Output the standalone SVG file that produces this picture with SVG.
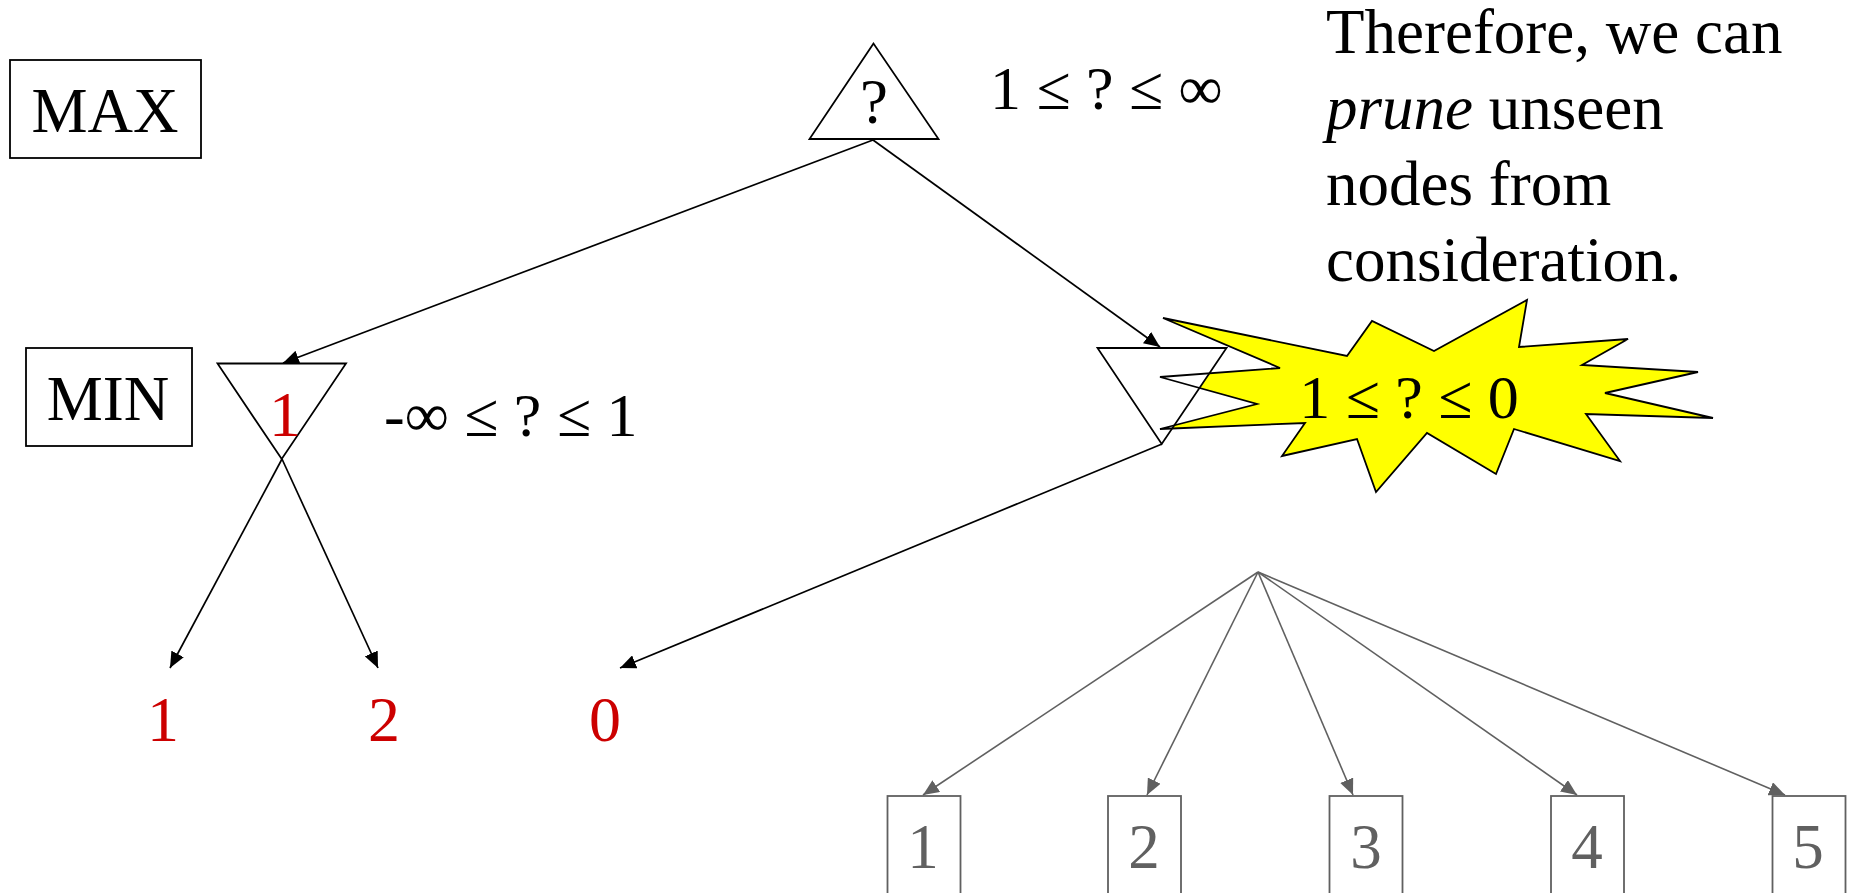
<svg xmlns="http://www.w3.org/2000/svg" width="1856" height="893" viewBox="0 0 1856 893">
<defs>
<style>
text{font-family:"Liberation Serif","Times New Roman",serif;}
.t{font-size:63px;fill:#000;}
.eq{font-size:62px;fill:#000;}
.red{font-size:64px;fill:#cc0000;}
.gr{font-size:63px;fill:#606060;}
.box{fill:#fff;stroke:#000;stroke-width:1.8;}
.tri{fill:none;stroke:#000;stroke-width:1.8;}
.gbox{fill:#fff;stroke:#606060;stroke-width:1.8;}
.e{stroke:#000;stroke-width:1.7;fill:none;marker-end:url(#ab);}
.ge{stroke:#606060;stroke-width:1.6;fill:none;marker-end:url(#ag);}
</style>
<marker id="ab" viewBox="0 0 16 14" refX="16" refY="7" markerWidth="16" markerHeight="14" markerUnits="userSpaceOnUse" orient="auto"><path d="M0,0 L16,7 L0,14 z" fill="#000"/></marker>
<marker id="ag" viewBox="0 0 16 14" refX="16" refY="7" markerWidth="16" markerHeight="14" markerUnits="userSpaceOnUse" orient="auto"><path d="M0,0 L16,7 L0,14 z" fill="#606060"/></marker>
<polygon id="burstShape" points="1163,318 1347,356 1372,321 1434,351 1527,300 1519,347 1628,339 1582,365 1698,372 1605,393 1713,418 1586,414 1620,461 1514,429 1496,474 1427,433 1376,492 1357,439 1282,456 1305,423 1160,429 1257,404 1160,377 1280,368"/>
</defs>
<rect width="1856" height="893" fill="#fff"/>

<g id="label-max">
<rect class="box" x="10" y="60" width="191" height="98"/>
<text class="t" x="105" y="132" text-anchor="middle">MAX</text>
</g>
<g id="label-min">
<rect class="box" x="26" y="348" width="166" height="98"/>
<text class="t" x="108" y="420" text-anchor="middle">MIN</text>
</g>

<g id="burst">
<use href="#burstShape" fill="#ffff00" stroke="none"/>
<polygon points="1097.5,348 1226.5,348 1161.7,444" fill="#fff" stroke="none"/>
<use href="#burstShape" fill="none" stroke="#000" stroke-width="1.8"/>
<text class="eq" x="1409" y="418" text-anchor="middle">1 ≤ ? ≤ 0</text>
</g>

<g id="connectors">
<line class="e" x1="873" y1="140" x2="283" y2="363"/>
<line class="e" x1="873" y1="140" x2="1160" y2="347"/>
<line class="e" x1="282" y1="459" x2="170" y2="668"/>
<line class="e" x1="282" y1="459" x2="378" y2="668"/>
<line class="e" x1="1162" y1="444" x2="620" y2="668"/>
<line class="ge" x1="1258" y1="572" x2="923" y2="795"/>
<line class="ge" x1="1258" y1="572" x2="1147" y2="795"/>
<line class="ge" x1="1258" y1="572" x2="1353" y2="795"/>
<line class="ge" x1="1258" y1="572" x2="1577" y2="795"/>
<line class="ge" x1="1258" y1="572" x2="1785" y2="795"/>
</g>

<g id="node-root">
<polygon class="tri" points="873.5,43.5 809.5,139 938.5,139"/>
<text class="t" x="874" y="123" text-anchor="middle">?</text>
<text class="eq" x="990" y="109">1 ≤ ? ≤ ∞</text>
</g>

<g id="node-min-left">
<polygon class="tri" points="217.5,363.5 346,363.5 281.7,459"/>
<text class="red" x="285" y="436" text-anchor="middle">1</text>
<text class="eq" x="384" y="436">-∞ ≤ ? ≤ 1</text>
</g>

<g id="node-min-right">
<polygon class="tri" points="1097.5,348 1226.5,348 1161.7,444"/>
</g>

<g id="leaf-1"><text class="red" x="163" y="741" text-anchor="middle">1</text></g>
<g id="leaf-2"><text class="red" x="384" y="741" text-anchor="middle">2</text></g>
<g id="leaf-0"><text class="red" x="605" y="741" text-anchor="middle">0</text></g>

<g id="pruned-1"><rect class="gbox" x="887.5" y="796" width="73" height="120"/><text class="gr" x="923" y="868" text-anchor="middle">1</text></g>
<g id="pruned-2"><rect class="gbox" x="1108" y="796" width="73" height="120"/><text class="gr" x="1144" y="868" text-anchor="middle">2</text></g>
<g id="pruned-3"><rect class="gbox" x="1329.5" y="796" width="73" height="120"/><text class="gr" x="1366" y="868" text-anchor="middle">3</text></g>
<g id="pruned-4"><rect class="gbox" x="1551" y="796" width="73" height="120"/><text class="gr" x="1587" y="868" text-anchor="middle">4</text></g>
<g id="pruned-5"><rect class="gbox" x="1772.5" y="796" width="73" height="120"/><text class="gr" x="1808" y="868" text-anchor="middle">5</text></g>

<g id="note">
<text class="t" x="1326" y="53">Therefore, we can</text>
<text class="t" x="1326" y="129"><tspan font-style="italic">prune</tspan> unseen</text>
<text class="t" x="1326" y="205">nodes from</text>
<text class="t" x="1326" y="281">consideration.</text>
</g>
</svg>
